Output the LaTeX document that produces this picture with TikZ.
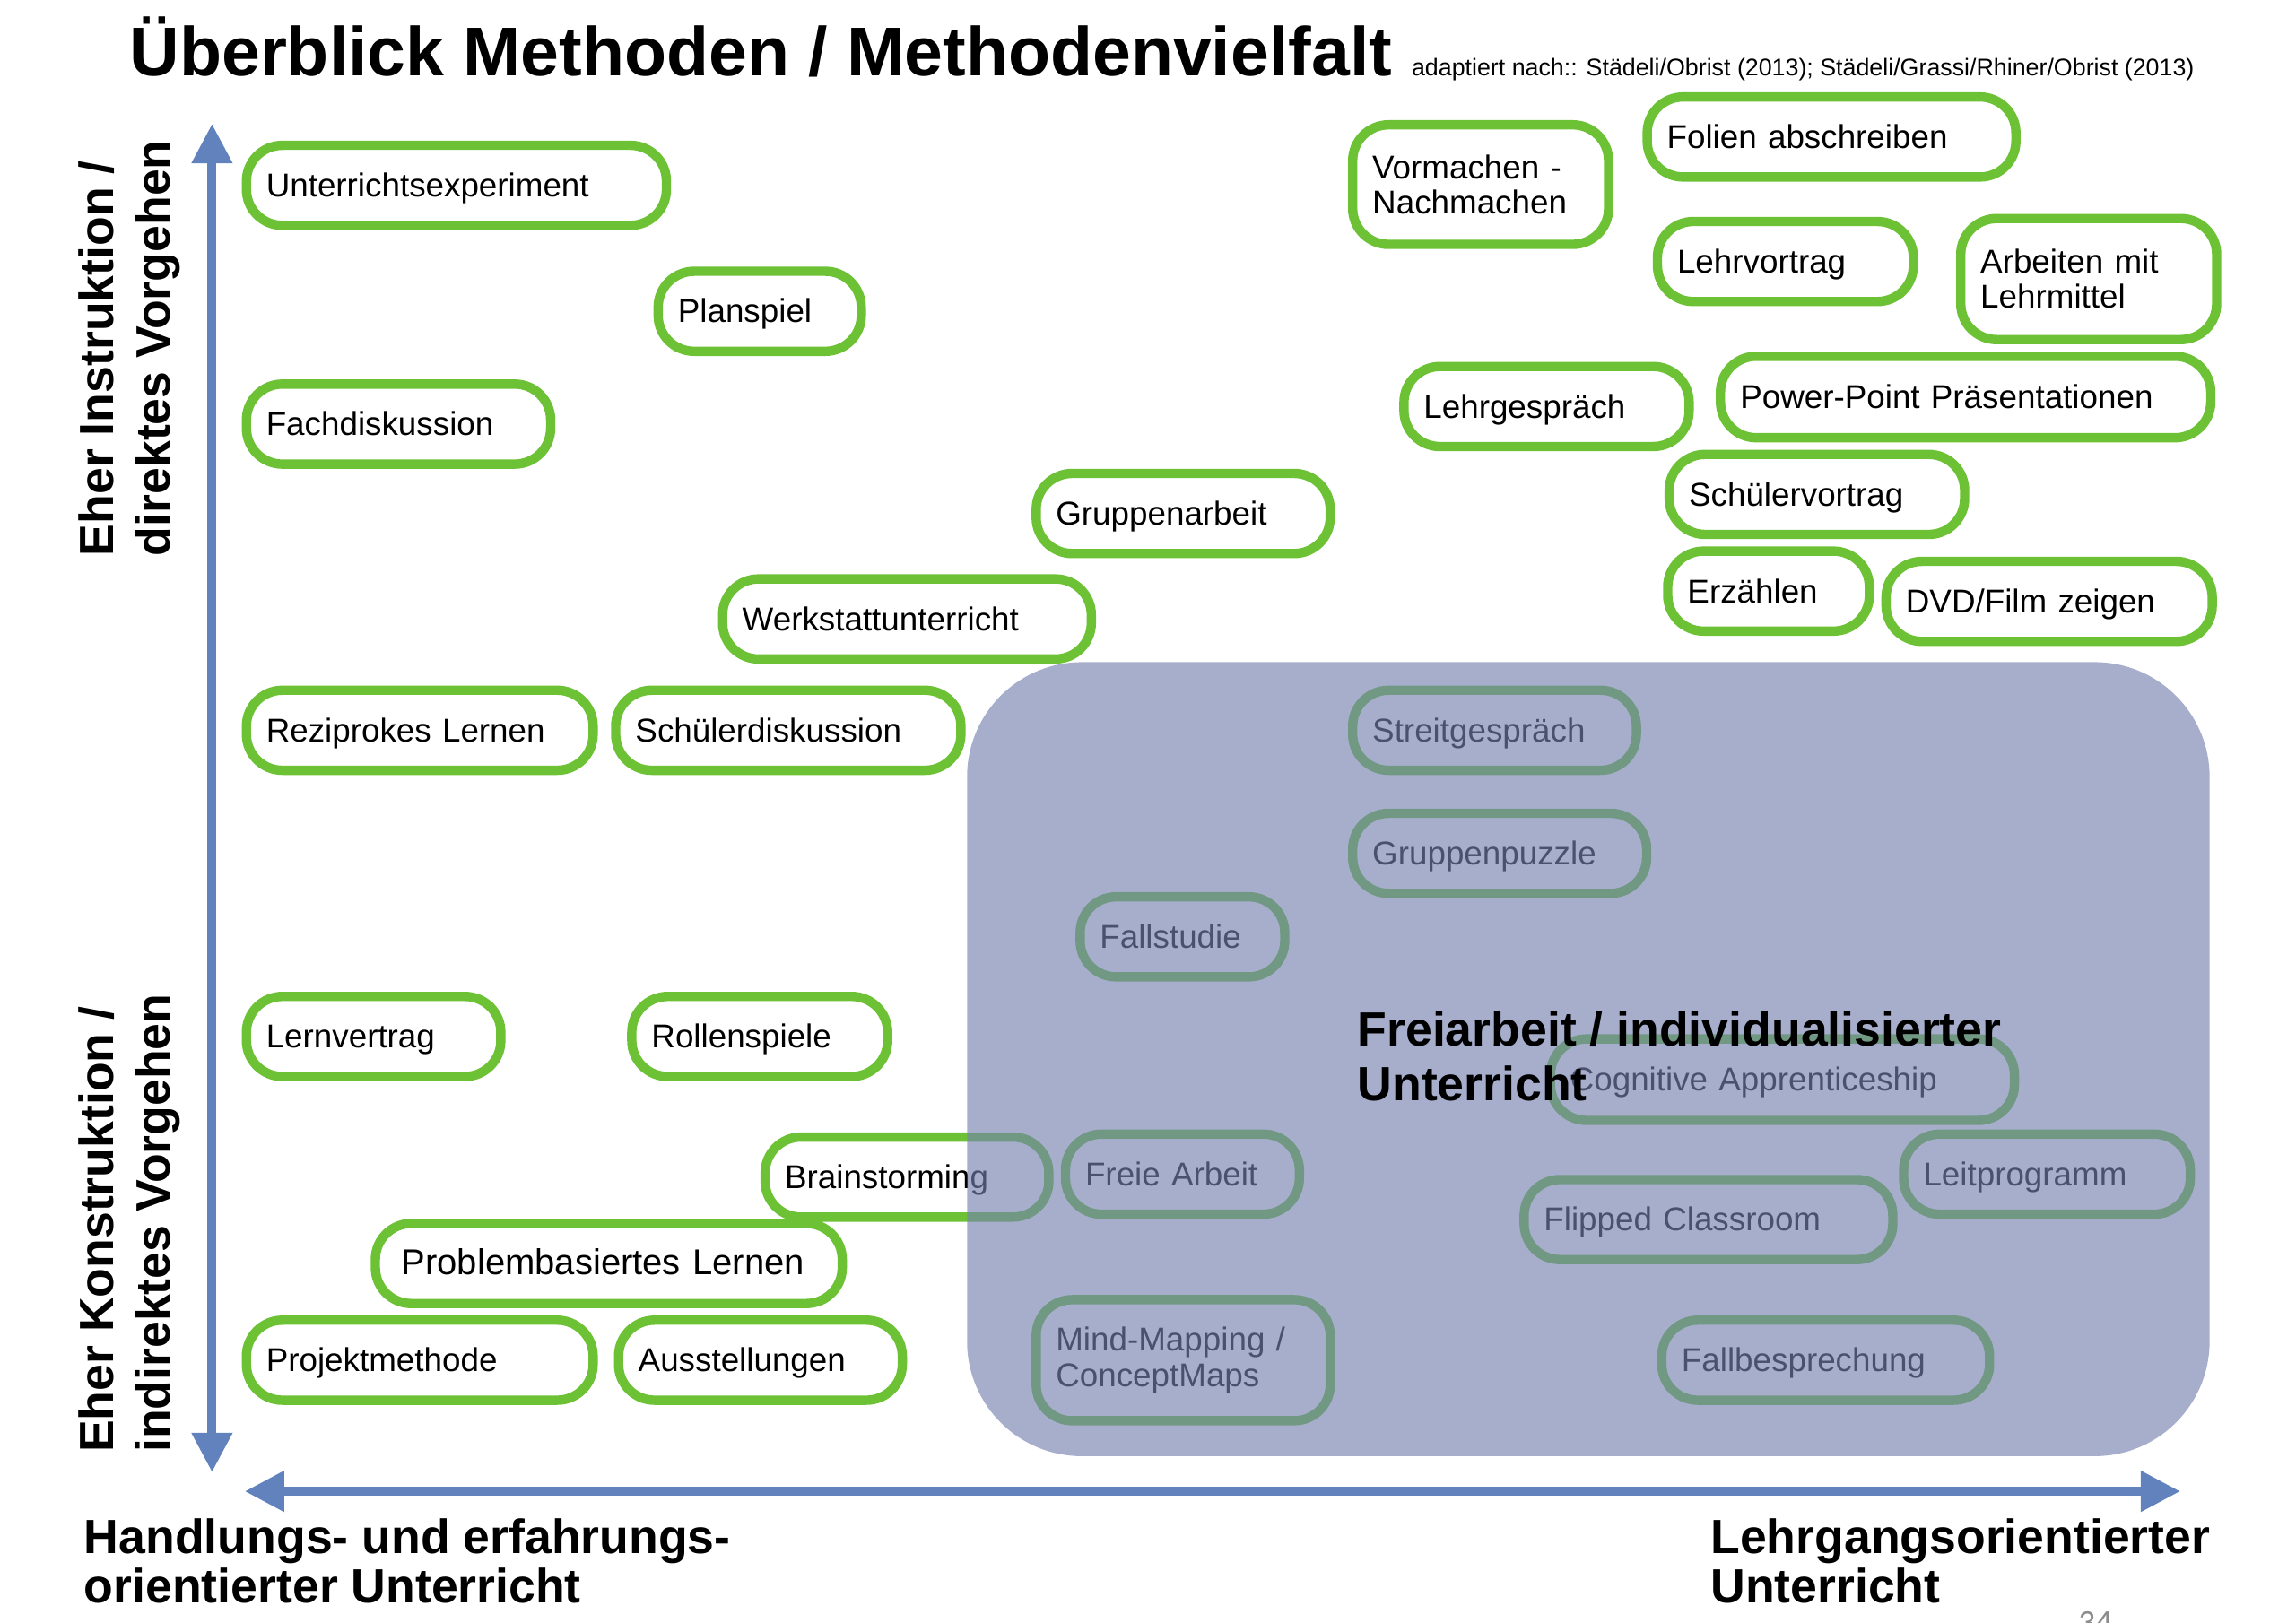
\documentclass[tikz,border=0pt]{standalone}
\usepackage{fontspec}
\setmainfont{Liberation Sans}
\newfontfamily\pagenumfont{Carlito}
\usetikzlibrary{arrows.meta,shadows}
\definecolor{mgreen}{RGB}{108,194,52}
\definecolor{axisblue}{RGB}{98,130,190}
\definecolor{regionblue}{RGB}{117,129,176}
\newcommand\methodbox[7][oneline]{%
  \pgfmathsetlengthmacro\mbtw{(#5-#3)*0.40843pt-13.6pt}%
  \pgfmathsetlengthmacro\mbht{(#6-#4)*0.40843pt-2.6pt}%
  \node[mbox, #1, text width=\mbtw, minimum height=\mbht] (#2) at ({(#3+#5)/2},{(#4+#6)/2}) {#7};%
}
\tikzset{
  mbox/.style={draw=mgreen, line width=2.6pt, fill=white, rounded corners=10pt,
    inner xsep=5.5pt, inner ysep=0pt, align=left, text=black,
    font=\fontsize{9.2}{9.8}\selectfont,
    drop shadow={opacity=0.18, shadow xshift=0.4pt, shadow yshift=-0.9pt}},
  oneline/.style={text height=7.6pt, text depth=1.2pt},
  twolines/.style={},
  axisline/.style={draw=axisblue, line width=2.5pt,
    {Triangle[length=11pt,width=10.8pt]}-{Triangle[length=11pt,width=10.8pt]}},
  bigbold/.style={font=\fontsize{13.4}{15.8}\selectfont\bfseries, inner sep=0pt, align=left, text=black},
}
\begin{document}
\begin{tikzpicture}[x=0.40843pt, y=-0.40843pt]
\useasboundingbox (0,0) rectangle (1567,1107.3);
\fill[white] (0,0) rectangle (1567,1107.3);

% title
\node[anchor=base west, inner sep=0pt, font=\fontsize{19.25}{22}\selectfont\bfseries] (title) at (88,51.5) {Überblick Methoden / Methodenvielfalt};
\node[anchor=base west, inner sep=0pt, font=\fontsize{6.7}{8}\selectfont] (source) at (963,51.5) {adaptiert nach:: Städeli/Obrist (2013); Städeli/Grassi/Rhiner/Obrist (2013)};

% axes
\coordinate (vtop) at (144.7,84.5);
\coordinate (vbot) at (144.7,1005);
\coordinate (hleft) at (167,1018);
\coordinate (hright) at (1488,1018);
\draw[axisline] (vtop) -- (vbot);
\draw[axisline] (hleft) -- (hright);

% axis labels
\node[bigbold, rotate=90, anchor=north west] (instr) at (53,380) {Eher Instruktion /\\direktes Vorgehen};
\node[bigbold, rotate=90, anchor=north west] (konstr) at (53,992) {Eher Konstruktion /\\indirektes Vorgehen};
\node[bigbold, anchor=north west, font=\fontsize{13.4}{13.8}\selectfont\bfseries] (handl) at (57,1036) {Handlungs- und erfahrungs-\\orientierter Unterricht};
\node[bigbold, anchor=north west, font=\fontsize{13.4}{13.8}\selectfont\bfseries] (lehrg) at (1167,1036) {Lehrgangsorientierter\\Unterricht};

% method boxes
\methodbox{unt}{165}{96}{458}{157}{Unterrichtsexperiment}
\methodbox{plan}{446}{182}{591}{243}{Planspiel}
\methodbox{fach}{165}{259}{379}{320}{Fachdiskussion}
\methodbox{grarb}{704}{320}{911}{381}{Gruppenarbeit}
\methodbox{werk}{490}{392}{748}{453}{Werkstattunterricht}
\methodbox{rezi}{165}{468}{408}{529}{Reziprokes Lernen}
\methodbox{schuedis}{417}{468}{659}{529}{Schülerdiskussion}
\methodbox[twolines]{vorm}{920}{82}{1101}{170}{Vormachen -\\Nachmachen}
\methodbox{folien}{1121}{63}{1379}{124}{Folien abschreiben}
\methodbox{lvortrag}{1128}{148}{1309}{209}{Lehrvortrag}
\methodbox[twolines]{lmittel}{1335}{146}{1516}{235}{Arbeiten mit\\Lehrmittel}
\methodbox{lgespr}{955}{247}{1156}{308}{Lehrgespräch}
\methodbox{ppt}{1171}{240}{1512}{302}{Power-Point Präsentationen}
\methodbox{svortrag}{1136}{307}{1344}{368}{Schülervortrag}
\methodbox{erz}{1135}{373}{1279}{434}{Erzählen}
\methodbox{dvd}{1284}{380}{1513}{441}{DVD/Film zeigen}
\methodbox{streit}{920}{468}{1120}{529}{Streitgespräch}
\methodbox{puzzle}{920}{552}{1127}{613}{Gruppenpuzzle}
\methodbox{fallst}{734}{609}{880}{670}{Fallstudie}
\methodbox{lernv}{165}{677}{345}{738}{Lernvertrag}
\methodbox{rollen}{428}{677}{609}{738}{Rollenspiele}
\methodbox{brain}{519}{773}{719}{834}{Brainstorming}
\methodbox{freie}{724}{771}{890}{832}{Freie Arbeit}
\methodbox{cogn}{1055}{706}{1378}{768}{Cognitive Apprenticeship}
\methodbox{leit}{1296}{771}{1498}{832}{Leitprogramm}
\methodbox{flip}{1037}{802}{1295}{863}{Flipped Classroom}
\methodbox[oneline, font=\fontsize{10}{11}\selectfont]{pbl}{253}{832}{578}{893}{\hspace*{1.8pt}Problembasiertes Lernen}
\methodbox{proj}{165}{898}{408}{959}{Projektmethode}
\methodbox{ausst}{419}{898}{619}{959}{Ausstellungen}
\methodbox[twolines]{mind}{704}{884}{911}{973}{Mind-Mapping /\\ConceptMaps}
\methodbox{fallb}{1131}{898}{1361}{959}{Fallbesprechung}

% translucent region
\fill[regionblue, opacity=0.635, rounded corners=32pt] (660,452) rectangle (1508,994);
\node[bigbold, anchor=north west, font=\fontsize{13.4}{15.25}\selectfont\bfseries] (frei) at (926,690) {Freiarbeit / individualisierter\\Unterricht};

% page number
\node[anchor=base west, inner sep=0pt, text=black!45, font=\pagenumfont\fontsize{9.3}{10}\selectfont] (pnum) at (1418,1115) {34};
\end{tikzpicture}
\end{document}
